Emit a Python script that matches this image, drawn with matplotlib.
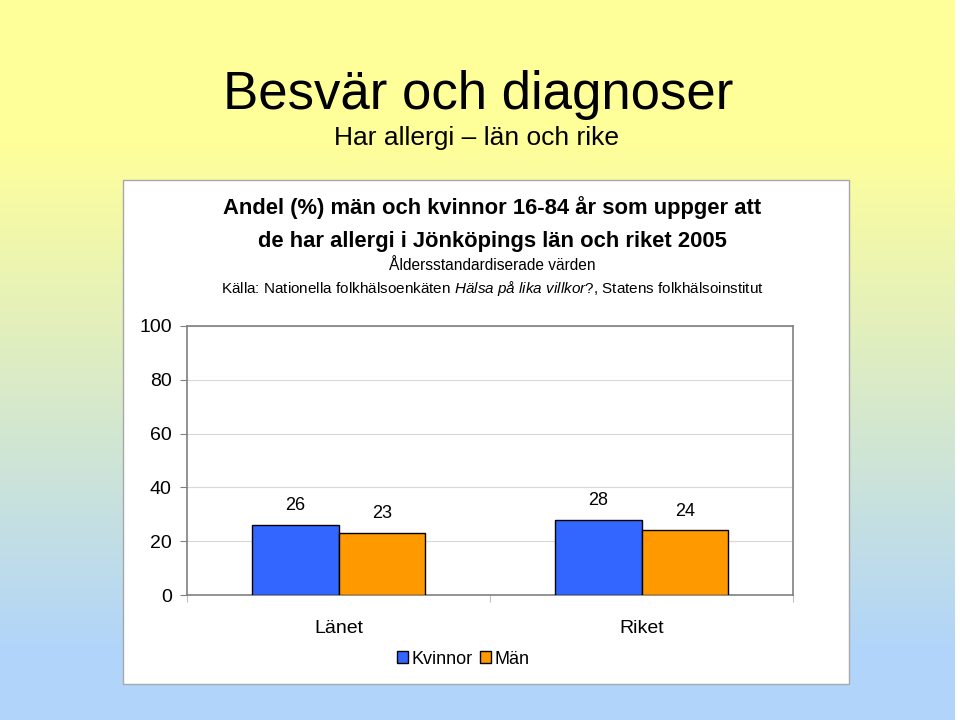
import numpy as np
import matplotlib.pyplot as plt
from matplotlib.colors import LinearSegmentedColormap
from matplotlib.patches import Rectangle

plt.rcParams['font.family'] = ['Liberation Sans', 'DejaVu Sans']
plt.rcParams['mathtext.fontset'] = 'custom'
plt.rcParams['mathtext.rm'] = 'Liberation Sans'
plt.rcParams['mathtext.it'] = 'Liberation Sans:italic'

# Data
kategorier = ['Länet', 'Riket']
kvinnor = [26, 28]
man = [23, 24]
serier = ['Kvinnor', 'Män']
farger = ['#3366FF', '#FF9900']
yticks = [0, 20, 40, 60, 80, 100]

W, H = 960, 720
fig = plt.figure(figsize=(W / 100, H / 100), dpi=100, facecolor='white')

# Bakgrund med gradient (gul -> ljusblå)
bg = fig.add_axes([0, 0, 955 / W, 1], zorder=0)
bg.axis('off')
y = np.linspace(0, 1, 720)
t = np.clip((y * 720 - 140) / (650 - 140), 0, 1)
cmap = LinearSegmentedColormap.from_list('bg', ['#FFFF99', '#B1D5FA'])
bg.imshow(t[:, None], aspect='auto', cmap=cmap, vmin=0, vmax=1,
          extent=[0, 1, 0, 1], origin='upper')
bg.set_xlim(0, 1)
bg.set_ylim(0, 1)

# Vit diagramruta
fig.patches.append(Rectangle((123 / W, 1 - 684 / H), 726 / W, 504 / H,
                             transform=fig.transFigure, facecolor='white',
                             edgecolor='#A8A8A8', linewidth=1, zorder=1))

# Rubriker
fig.text(478 / W, 1 - 95 / H, 'Besvär och diagnoser', ha='center',
         va='center', fontsize=38, zorder=3)
fig.text(477 / W, 1 - 138 / H, 'Har allergi – län och rike', ha='center',
         va='center', fontsize=19, zorder=3)
fig.text(492 / W, 1 - 208 / H,
         'Andel (%) män och kvinnor 16-84 år som uppger att', ha='center',
         va='center', fontsize=15.8, fontweight='bold', zorder=3)
fig.text(492 / W, 1 - 242 / H,
         'de har allergi i Jönköpings län och riket 2005', ha='center',
         va='center', fontsize=15.8, fontweight='bold', zorder=3)
fig.text(492 / W, 1 - 266 / H, 'Åldersstandardiserade värden', ha='center',
         va='center', fontsize=11.2, zorder=3)
fig.text(492 / W, 1 - 288 / H,
         'Källa: Nationella folkhälsoenkäten $\\it{Hälsa\\ på\\ lika\\ villkor?}$'
         ', Statens folkhälsoinstitut', ha='center', va='center',
         fontsize=11, zorder=3)

# Stapeldiagram
ax = fig.add_axes([187 / W, 1 - 595 / H, 606 / W, 269 / H], zorder=2)
ax.set_facecolor('white')
x = np.arange(len(kategorier))
b = 0.2857
for i, (vals, namn, f) in enumerate(zip([kvinnor, man], serier, farger)):
    pos = x + (i - 0.5) * b
    ax.bar(pos, vals, width=b, color=f, edgecolor='black', linewidth=1,
           label=namn, zorder=3)
    for p, v in zip(pos, vals):
        ax.text(p, v + 4, str(v), ha='center', va='bottom', fontsize=13)

ax.set_xlim(-0.5, 1.5)
ax.set_ylim(0, 100)
ax.set_yticks(yticks)
ax.set_yticklabels([str(v) for v in yticks], fontsize=14)
ax.tick_params(axis='y', length=5, color='#808080', pad=6)
ax.set_xticks([-0.5, 0.5, 1.5])
ax.set_xticklabels([])
ax.set_xticks(x, minor=True)
ax.set_xticklabels(kategorier, minor=True, fontsize=14)
ax.tick_params(axis='x', which='major', length=5, color='#C0C0C0')
ax.tick_params(axis='x', which='minor', length=0, pad=18)
ax.yaxis.grid(True, color='#D8D8D8', linewidth=0.8, zorder=0)
for s in ax.spines.values():
    s.set_color('#808080')
    s.set_linewidth(1.2)

leg = fig.legend(loc='center', bbox_to_anchor=(463 / W, 1 - 659 / H),
                 ncol=2, frameon=False, fontsize=13, handlelength=0.6,
                 handleheight=0.6, handletextpad=0.2, columnspacing=0.4)

fig.savefig('out.png', dpi=100, facecolor=fig.get_facecolor())
